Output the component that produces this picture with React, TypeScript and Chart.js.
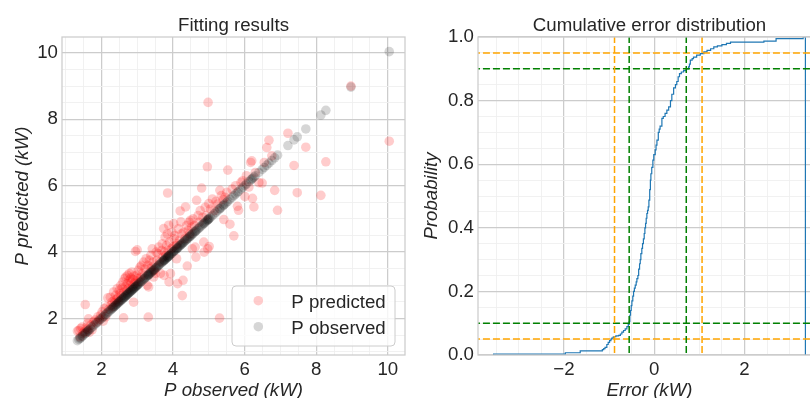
import React, { useEffect, useRef } from 'react';
import { Chart, registerables } from 'chart.js';

Chart.register(...registerables);

const FONT = "'Liberation Sans', Arial, Helvetica, sans-serif";
const TEXT = '#262626';
const FS = 18.67;

// ---------- Left panel: fitting results ----------
const P_OBSERVED = [
  1.33, 1.37, 1.40, 1.42, 1.46, 1.48, 1.52, 1.55, 1.57, 1.60, 1.62, 1.64, 1.66, 1.70, 1.74, 1.78, 1.82, 1.86, 1.90, 1.94, 1.98,
  2.02, 2.05, 2.08, 2.12, 2.15, 2.18, 2.21, 2.25, 2.27, 2.30, 2.32, 2.34, 2.36, 2.38, 2.40, 2.42, 2.44, 2.46, 2.48, 2.50,
  2.52, 2.54, 2.56, 2.58, 2.60, 2.62, 2.63, 2.65, 2.67, 2.68, 2.70, 2.72, 2.73, 2.75, 2.77, 2.78, 2.80, 2.82, 2.83, 2.85,
  2.87, 2.88, 2.90, 2.91, 2.93, 2.95, 2.96, 2.98, 3.00, 3.01,
  3.03, 3.05, 3.08, 3.10, 3.12, 3.15, 3.18, 3.20, 3.22, 3.25, 3.28, 3.30, 3.31, 3.32, 3.34, 3.36, 3.38, 3.40, 3.42, 3.44,
  3.46, 3.48, 3.51, 3.53,
  3.55, 3.58, 3.60, 3.62, 3.65, 3.68, 3.70, 3.72, 3.74, 3.75, 3.76, 3.78, 3.80, 3.82, 3.84, 3.85, 3.86, 3.88, 3.89, 3.90,
  3.93, 3.95, 3.97, 4.00,
  4.02, 4.03, 4.05, 4.08, 4.10, 4.12, 4.13, 4.15, 4.18, 4.20, 4.22, 4.24, 4.26, 4.28, 4.30, 4.33, 4.35, 4.38, 4.40, 4.42,
  4.45, 4.47, 4.49,
  4.52, 4.54, 4.56, 4.60, 4.62, 4.64, 4.66, 4.70, 4.73, 4.76, 4.80, 4.83, 4.86, 4.87, 4.90, 4.93, 4.96, 4.97, 4.98, 5.00, 5.01,
  5.05, 5.10, 5.15, 5.20, 5.25, 5.30, 5.31, 5.35, 5.40, 5.42, 5.45, 5.50, 5.53, 5.59, 5.65, 5.70, 5.75, 5.80, 5.83, 5.90, 5.95,
  6.01, 6.05, 6.12, 6.17, 6.20, 6.22, 6.26, 6.30, 6.40, 6.49, 6.55, 6.62, 6.68, 6.76, 6.84, 6.92,
  7.21, 7.38, 7.47, 7.71, 8.13, 8.27, 8.97, 10.04,
];
const P_PREDICTED = [
  1.62, 1.64, 1.45, 1.70, 1.74, 1.55, 1.60, 2.42, 1.72, 1.68, 1.85, 1.99, 1.58, 1.80, 1.66, 1.90, 1.95, 1.88, 2.05, 1.98, 2.10,
  2.20, 1.92, 2.30, 2.05, 2.35, 2.62, 2.28, 2.64, 2.40, 2.50, 2.36, 2.80, 2.55, 2.48, 2.70, 2.58, 2.90, 2.62, 2.52, 2.85,
  2.75, 3.00, 2.68, 2.92, 3.10, 2.02, 2.80, 3.20, 2.95, 3.25, 2.85, 3.05, 3.30, 2.90, 3.15, 3.35, 3.00, 3.22, 3.10, 3.40,
  2.95, 3.18, 2.49, 3.28, 3.05, 4.02, 3.15, 3.30, 4.07, 3.20,
  3.45, 3.10, 3.55, 3.25, 3.60, 3.35, 3.70, 3.30, 3.50, 3.80, 3.00, 3.60, 2.04, 2.95, 3.75, 3.50, 3.90, 3.55, 4.10, 3.70,
  3.25, 3.45, 3.36, 4.00,
  3.75, 3.95, 4.15, 3.70, 3.36, 4.05, 4.25, 3.85, 4.71, 3.30, 4.00, 4.45, 3.90, 4.20, 4.55, 5.78, 4.05, 4.81, 3.10, 4.30,
  3.35, 4.10, 4.60, 4.15,
  4.86, 4.40, 4.50, 4.20, 3.80, 4.25, 3.05, 4.70, 4.35, 5.24, 4.91, 4.55, 2.69, 3.15, 4.60, 4.40, 5.36, 4.80, 3.58, 4.65,
  4.90, 4.55, 4.96,
  4.75, 4.10, 5.00, 4.80, 4.15, 3.85, 5.56, 5.10, 4.90, 5.25, 5.93, 5.05, 4.30, 4.00, 5.35, 5.10, 6.57, 4.10, 8.51, 5.46, 4.17,
  5.30, 5.60, 5.25, 5.53, 5.45, 2.01, 5.86, 5.70, 5.58, 4.98, 5.65, 5.80, 6.47, 4.84, 5.90, 4.49, 6.00, 5.38, 5.26, 6.10, 6.15,
  5.67, 6.30, 5.96, 6.70, 6.75, 5.62, 5.36, 6.40, 6.09, 6.08, 6.70, 7.15, 7.37, 6.90, 5.86, 5.26,
  7.58, 6.61, 5.79, 7.16, 5.71, 6.72, 9.00, 7.34,
];

const LEFT_X_TICKS = [2, 4, 6, 8, 10];
const LEFT_Y_TICKS = [2, 4, 6, 8, 10];

// ---------- Right panel: cumulative error distribution ----------
const ERROR_EDGES = [
  -3.56, -3.56, -1.97, -1.64, -1.15, -1.12, -1.09, -1.05, -1.02, -0.99, -0.96, -0.94, -0.91, -0.887, -0.85, -0.79, -0.75,
  -0.717, -0.68, -0.643, -0.606, -0.575, -0.555, -0.54, -0.525, -0.51, -0.495, -0.475, -0.458, -0.44, -0.421, -0.4,
  -0.384, -0.362, -0.345, -0.325, -0.31, -0.296, -0.275, -0.259, -0.24, -0.222, -0.207, -0.192, -0.178, -0.163, -0.148,
  -0.133, -0.118, -0.1, -0.085, -0.074, -0.055, -0.03, -0.01, 0.022, 0.04, 0.06, 0.09, 0.11, 0.13, 0.17, 0.2, 0.24, 0.28,
  0.32, 0.36, 0.39, 0.43, 0.47, 0.5, 0.53, 0.56, 0.6, 0.65, 0.71, 0.76, 0.78, 0.8, 0.84, 0.87, 0.94, 1.02, 1.1, 1.17, 1.25,
  1.32, 1.4, 1.5, 1.6, 1.69, 2.43, 2.7, 3.3, 3.35, 3.35,
];
const CUM_PROBABILITY = [
  0, 0.003, 0.007, 0.013, 0.017, 0.02, 0.024, 0.033, 0.04, 0.045, 0.05, 0.053, 0.056, 0.058, 0.06, 0.062, 0.066,
  0.072, 0.077, 0.082, 0.089, 0.096, 0.105, 0.125, 0.14, 0.155, 0.17, 0.185, 0.2, 0.21, 0.22, 0.23,
  0.24, 0.25, 0.27, 0.287, 0.3, 0.319, 0.335, 0.35, 0.365, 0.382, 0.4, 0.414, 0.43, 0.445, 0.455,
  0.466, 0.487, 0.52, 0.55, 0.57, 0.59, 0.613, 0.63, 0.645, 0.66, 0.676, 0.7, 0.71, 0.72, 0.744, 0.75, 0.76, 0.77,
  0.78, 0.8, 0.82, 0.84, 0.85, 0.86, 0.875, 0.885, 0.89, 0.894, 0.9, 0.906, 0.915, 0.927, 0.932, 0.937, 0.943, 0.948, 0.953, 0.958, 0.963,
  0.969, 0.972, 0.976, 0.98, 0.984, 0.987, 0.995, 1.0, 1.0, 0,
];
const ORANGE_V = [-0.88, 1.06];
const GREEN_V = [-0.555, 0.71];
const ORANGE_H = [0.05, 0.95];
const GREEN_H = [0.1, 0.9];

const RIGHT_X_TICKS = [-2, 0, 2];
const RIGHT_Y_TICKS = [0, 0.2, 0.4, 0.6, 0.8, 1.0];

// ---------- helpers ----------
function gridValues(min: number, max: number, step: number) {
  const out: number[] = [];
  const start = Math.ceil(min / step - 1e-9);
  for (let i = start; i * step <= max + 1e-9; i++) out.push(Math.round(i * step * 1e6) / 1e6);
  return out;
}
const isMajor = (v: number, majors: number[]) => majors.some((m) => Math.abs(m - v) < 1e-6);

function axis(min: number, max: number, step: number, majors: number[], fmt: (v: number) => string, fit: (s: any) => void, pad: number) {
  return {
    type: 'linear',
    min,
    max,
    afterBuildTicks: (s: any) => {
      s.ticks = gridValues(min, max, step).map((v) => ({ value: v }));
    },
    afterFit: fit,
    ticks: {
      autoSkip: false,
      maxRotation: 0,
      minRotation: 0,
      padding: pad,
      color: TEXT,
      font: { family: FONT, size: FS },
      callback: (v: any) => (isMajor(v, majors) ? fmt(v) : ''),
    },
    grid: {
      drawTicks: false,
      tickLength: 0,
      color: (c: any) => (c.tick && isMajor(c.tick.value, majors) ? '#cccccc' : '#efefef'),
      lineWidth: (c: any) => (c.tick && isMajor(c.tick.value, majors) ? 1.25 : 0.9),
    },
    border: { display: false },
  };
}

function textPlugin(title: string, xTitle: string, yTitle: string, yTitleX: number, legend: boolean) {
  return {
    id: 'texts',
    afterDatasetsDraw(chart: any) {
      const { ctx, chartArea: a } = chart;
      ctx.save();
      ctx.strokeStyle = '#cccccc';
      ctx.lineWidth = 1.25;
      ctx.strokeRect(a.left, a.top, a.right - a.left, a.bottom - a.top);
      if (legend) {
        ctx.beginPath();
        (ctx as any).roundRect(232, 286, 163, 60, 4);
        ctx.fillStyle = 'rgba(255,255,255,0.8)';
        ctx.fill();
        ctx.strokeStyle = '#cccccc';
        ctx.lineWidth = 1;
        ctx.stroke();
        ctx.fillStyle = 'rgba(255,0,0,0.2)';
        ctx.beginPath();
        ctx.arc(258.3, 300.7, 4.8, 0, Math.PI * 2);
        ctx.fill();
        ctx.fillStyle = 'rgba(0,0,0,0.16)';
        ctx.beginPath();
        ctx.arc(258.3, 326.7, 4.8, 0, Math.PI * 2);
        ctx.fill();
        ctx.fillStyle = TEXT;
        ctx.font = `${FS}px ${FONT}`;
        ctx.textAlign = 'left';
        ctx.textBaseline = 'alphabetic';
        ctx.fillText('P predicted', 291.3, 308.3);
        ctx.fillText('P observed', 291.3, 334);
      }
      ctx.restore();
    },
    afterDraw(chart: any) {
      const { ctx, chartArea: a } = chart;
      const cx = (a.left + a.right) / 2;
      const cy = (a.top + a.bottom) / 2;
      ctx.save();
      ctx.fillStyle = TEXT;
      ctx.textAlign = 'center';
      ctx.textBaseline = 'alphabetic';
      ctx.font = `${FS}px ${FONT}`;
      ctx.fillText(title, cx, 30.7);
      ctx.font = `italic ${FS}px ${FONT}`;
      ctx.fillText(xTitle, cx, 396);
      ctx.translate(yTitleX, cy);
      ctx.rotate(-Math.PI / 2);
      ctx.fillText(yTitle, 0, 0);
      ctx.restore();
    },
  };
}

function LeftChart() {
  const ref = useRef<HTMLCanvasElement>(null);
  useEffect(() => {
    const observed = P_OBSERVED.map((o) => ({ x: o, y: o }));
    const predicted = P_OBSERVED.map((o, i) => ({ x: o, y: P_PREDICTED[i] }));
    const chart = new Chart(ref.current as HTMLCanvasElement, {
      type: 'scatter',
      data: {
        datasets: [
          { label: 'P observed', data: observed, backgroundColor: 'rgba(0,0,0,0.16)', borderWidth: 0, pointRadius: 4.8, pointHoverRadius: 4.8 },
          { label: 'P predicted', data: predicted, backgroundColor: 'rgba(255,0,0,0.2)', borderWidth: 0, pointRadius: 4.8, pointHoverRadius: 4.8 },
        ],
      } as any,
      options: {
        animation: false,
        responsive: false,
        events: [],
        layout: { padding: { left: 0, right: 5, top: 37, bottom: 0 } },
        plugins: { legend: { display: false }, title: { display: false }, tooltip: { enabled: false } },
        scales: {
          x: axis(0.9, 10.48, 0.5, LEFT_X_TICKS, (v) => String(v), (s: any) => { s.height = 43; }, 4),
          y: axis(0.9, 10.48, 0.5, LEFT_Y_TICKS, (v) => String(v), (s: any) => { s.width = 62; }, 4),
        } as any,
      },
      plugins: [textPlugin('Fitting results', 'P observed (kW)', 'P predicted (kW)', 28.4, true)],
    });
    return () => chart.destroy();
  }, []);
  return <canvas ref={ref} width={410} height={398} style={{ position: 'absolute', left: 0, top: 0 }} />;
}

function RightChart() {
  const ref = useRef<HTMLCanvasElement>(null);
  useEffect(() => {
    const dash = (color: string, pts: { x: number; y: number }[]) => ({
      data: pts,
      showLine: true,
      borderColor: color,
      borderWidth: 1.5,
      borderDash: [7, 3],
      pointRadius: 0,
      fill: false,
    });
    const datasets: any[] = [];
    ORANGE_V.forEach((v) => datasets.push(dash('#ffa500', [{ x: v, y: -1 }, { x: v, y: 2 }])));
    GREEN_V.forEach((v) => datasets.push(dash('#008000', [{ x: v, y: -1 }, { x: v, y: 2 }])));
    ORANGE_H.forEach((v) => datasets.push(dash('#ffa500', [{ x: -10, y: v }, { x: 10, y: v }])));
    GREEN_H.forEach((v) => datasets.push(dash('#008000', [{ x: -10, y: v }, { x: 10, y: v }])));
    datasets.push({
      data: ERROR_EDGES.map((x, i) => ({ x, y: CUM_PROBABILITY[i] })),
      showLine: true,
      stepped: 'before',
      borderColor: '#1f77b4',
      borderWidth: 1.2,
      pointRadius: 0,
      fill: false,
    });
    const chart = new Chart(ref.current as HTMLCanvasElement, {
      type: 'scatter',
      data: { datasets },
      options: {
        animation: false,
        responsive: false,
        events: [],
        layout: { padding: { left: 0, right: 5, top: 37, bottom: 0 } },
        plugins: { legend: { display: false }, title: { display: false }, tooltip: { enabled: false } },
        scales: {
          x: axis(-3.905, 3.6955, 0.5, RIGHT_X_TICKS, (v) => (v < 0 ? '\u2212' + String(-v) : String(v)), (s: any) => { s.height = 43; }, 4),
          y: axis(0, 1, 0.05, RIGHT_Y_TICKS, (v) => v.toFixed(1), (s: any) => { s.width = 68; }, 4),
        } as any,
      },
      plugins: [textPlugin('Cumulative error distribution', 'Error (kW)', 'Probability', 27.4, false)],
    });
    return () => chart.destroy();
  }, []);
  return <canvas ref={ref} width={416} height={398} style={{ position: 'absolute', left: 410, top: 0 }} />;
}

export default function App() {
  return (
    <div style={{ position: 'absolute', left: 0, top: 0, width: 810, height: 398, overflow: 'hidden', background: '#ffffff' }}>
      <LeftChart />
      <RightChart />
    </div>
  );
}
